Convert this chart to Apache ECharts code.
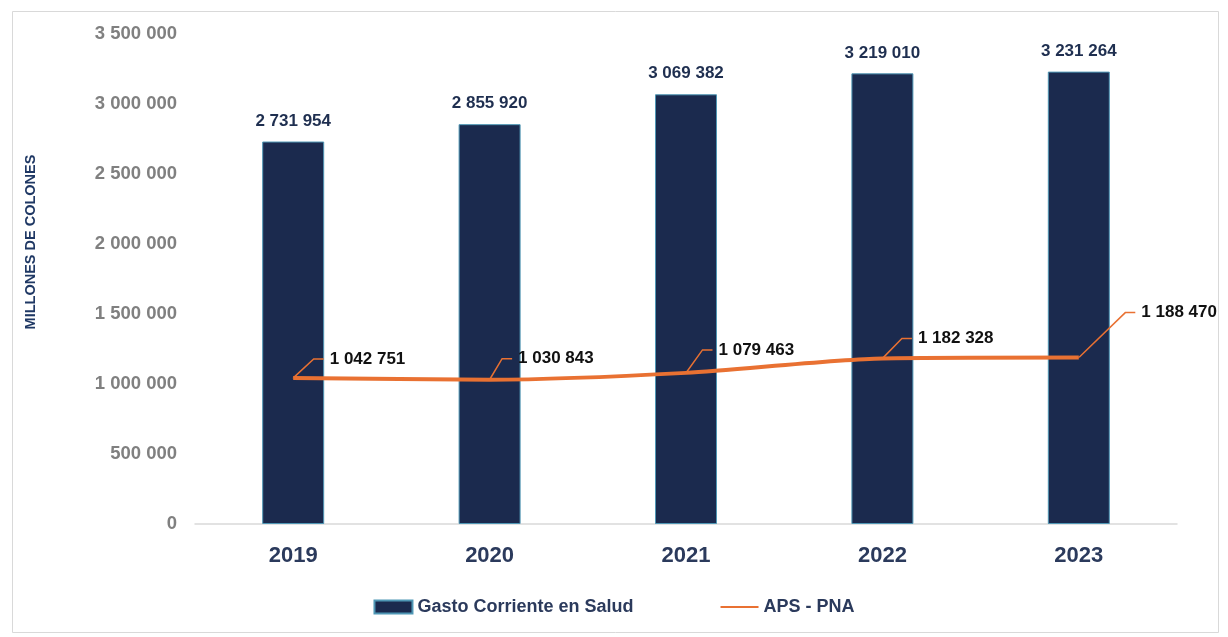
<!DOCTYPE html>
<html>
<head>
<meta charset="utf-8">
<script src="https://cdn.jsdelivr.net/npm/echarts@6/dist/echarts.min.js"></script>
<style>
  html, body { margin: 0; padding: 0; background: #fff; }
  #chart { width: 1228px; height: 637px; }
</style>
</head>
<body>
<div id="chart"></div>
<script>
// data
const years = ['2019', '2020', '2021', '2022', '2023'];
const gastoCorriente = [2731954, 2855920, 3069382, 3219010, 3231264];
const apsPna = [1042751, 1030843, 1079463, 1182328, 1188470];

const FONT = '"Liberation Sans", Arial, sans-serif';

// 2 731 954 style
const fmt = v => String(v).replace(/\B(?=(\d{3})+(?!\d))/g, ' ');

// where each APS label sits relative to its point (leader line follows)
const labelShift = [[30, -19], [22, -21], [26, -23], [29, -20], [56, -45]];

const chart = echarts.init(document.getElementById('chart'));

const option = {
  backgroundColor: '#fff',
  textStyle: { fontFamily: FONT },
  graphic: [
    {
      type: 'rect',
      shape: { x: 12.5, y: 11.5, width: 1206, height: 621 },
      style: { fill: 'none', stroke: '#d9d9d9', lineWidth: 1 },
      silent: true
    }
  ],
  grid: { left: 195, right: 51, top: 34, bottom: 113 },
  legend: {
    bottom: 16,
    left: 'center',
    itemWidth: 38,
    itemHeight: 13,
    itemGap: 86,
    textStyle: { color: '#2b3a5c', fontSize: 18, fontWeight: 'bold', fontFamily: FONT },
    data: [
      { name: 'Gasto Corriente en Salud', icon: 'rect' },
      { name: 'APS - PNA', itemStyle: { opacity: 0 } }
    ]
  },
  xAxis: {
    type: 'category',
    data: years,
    axisLine: { lineStyle: { color: '#d9d9d9', width: 1.5 } },
    axisTick: { show: false },
    axisLabel: { color: '#2b3a5c', fontSize: 22, fontWeight: 'bold', margin: 21 }
  },
  yAxis: {
    type: 'value',
    min: 0,
    max: 3500000,
    interval: 500000,
    name: 'MILLONES DE COLONES',
    nameLocation: 'middle',
    nameGap: 157,
    nameTextStyle: {
      color: '#1f3864', fontSize: 14.5, fontWeight: 'bold', padding: [0, 0, 0, 74]
    },
    splitLine: { show: false },
    axisLine: { show: false },
    axisTick: { show: false },
    axisLabel: {
      color: '#808080', fontSize: 18.5, fontWeight: 'bold', margin: 18,
      formatter: v => fmt(v)
    }
  },
  series: [
    {
      name: 'Gasto Corriente en Salud',
      type: 'bar',
      data: gastoCorriente,
      barWidth: 62,
      itemStyle: { color: '#1b2a4e', borderColor: '#4f97b5', borderWidth: 1 },
      label: {
        show: true, position: 'top', distance: 12,
        color: '#1f2f50', fontSize: 17, fontWeight: 'bold',
        formatter: p => fmt(p.value)
      }
    },
    {
      name: 'APS - PNA',
      type: 'line',
      data: apsPna,
      smooth: 0.25,
      symbol: 'circle',
      symbolSize: 1,
      showSymbol: true,
      lineStyle: { color: '#e97132', width: 4 },
      itemStyle: { color: '#e97132' },
      label: {
        show: true, position: 'right', distance: 0,
        padding: [0, 0, 0, 6],
        backgroundColor: 'rgba(255,255,255,0)',
        color: '#111', fontSize: 17, fontWeight: 'bold',
        formatter: p => fmt(p.value)
      },
      labelLine: {
        show: true,
        length2: 10,
        lineStyle: { color: '#e97132', width: 1.5 }
      },
      labelLayout: p => ({ dx: labelShift[p.dataIndex][0], dy: labelShift[p.dataIndex][1] })
    }
  ]
};

chart.setOption(option);
</script>
</body>
</html>
